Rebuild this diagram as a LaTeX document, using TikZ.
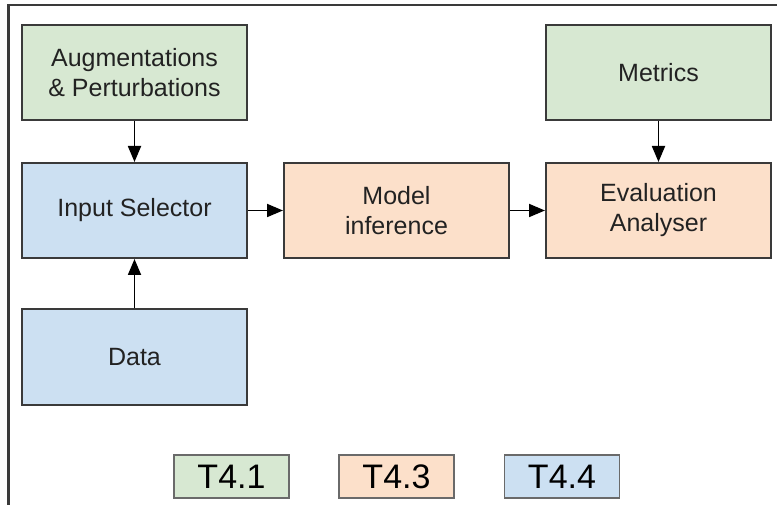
\documentclass[tikz,border=0pt]{standalone}
\usepackage{fontspec}
\setmainfont{Liberation Sans}
\usetikzlibrary{arrows.meta}
\definecolor{gfill}{HTML}{D7E8D2}
\definecolor{ofill}{HTML}{FCE0CA}
\definecolor{bfill}{HTML}{CCE0F2}
\definecolor{edge}{HTML}{3A3A3A}
\definecolor{legedge}{HTML}{6A6A6A}
\definecolor{txt}{HTML}{222222}
\begin{document}
\begin{tikzpicture}[x=1pt,y=-1pt,
  blk/.style={draw=edge,line width=2pt,minimum width=225pt,minimum height=95pt,inner sep=0pt,
    align=center,text=txt,font=\fontsize{25}{30}\selectfont},
  leg/.style={draw=legedge,line width=1.6pt,minimum width=115pt,minimum height=43pt,inner sep=0pt,
    text=black,font=\fontsize{34}{36}\selectfont},
  arr/.style={-{Triangle[length=16pt,width=13pt]},line width=1.8pt,black}]
\useasboundingbox (0,0) rectangle (777,505);
\draw[edge,line width=2.5pt] (8.5,505) -- (8.5,5) -- (777,5);
\node[blk,fill=gfill] (aug) at (134.5,72.5) {Augmentations\\\& Perturbations};
\node[blk,fill=bfill] (inp) at (134.5,210.5) {Input Selector};
\node[blk,fill=bfill] (data) at (134.5,357) {Data};
\node[blk,fill=ofill] (model) at (396.5,210.5) {Model\\inference};
\node[blk,fill=ofill] (eval) at (658.5,210.5) {Evaluation\\Analyser};
\node[blk,fill=gfill] (met) at (658.5,72.5) {Metrics};
\draw[arr] (aug) -- (inp);
\draw[arr] (data) -- (inp);
\draw[arr] (inp) -- (model);
\draw[arr] (model) -- (eval);
\draw[arr] (met) -- (eval);
\node[leg,fill=gfill] (l1) at (231.5,476.5) {T4.1};
\node[leg,fill=ofill] (l3) at (396.5,476.5) {T4.3};
\node[leg,fill=bfill] (l4) at (562,476.5) {T4.4};
\end{tikzpicture}
\end{document}
